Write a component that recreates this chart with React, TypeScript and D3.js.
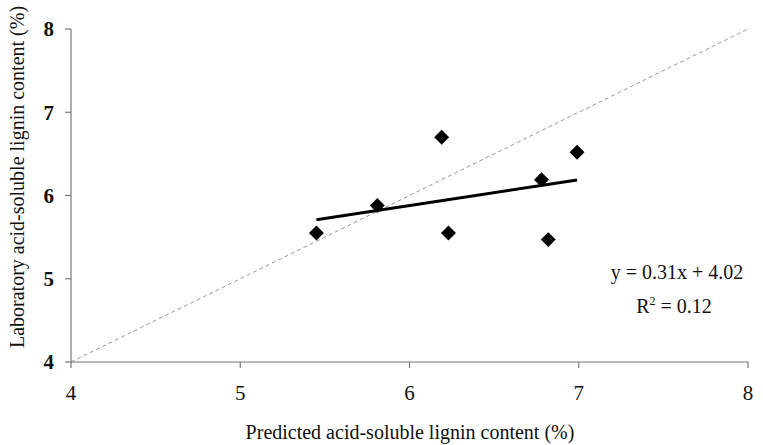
import React from "react";
import * as d3 from "d3";

const predicted = [5.45, 5.81, 6.19, 6.23, 6.78, 6.82, 6.99];
const laboratory = [5.55, 5.88, 6.70, 5.55, 6.19, 5.47, 6.52];
const xTicks = [4, 5, 6, 7, 8];
const yTicks = [4, 5, 6, 7, 8];
const slope = 0.31;
const intercept = 4.02;
const eqLine1 = "y = 0.31x + 4.02";
const r2Value = "0.12";
const xTitle = "Predicted acid-soluble lignin content (%)";
const yTitle = "Laboratory acid-soluble lignin content (%)";

export default function App() {
  const W = 763, H = 445;
  const left = 71, right = 748, top = 29, bottom = 362;
  const x = d3.scaleLinear().domain([4, 8]).range([left, right]);
  const y = d3.scaleLinear().domain([4, 8]).range([bottom, top]);
  const font = "'Liberation Serif', 'Times New Roman', serif";
  const axisColor = "#777";
  const diamond = d3.symbol(d3.symbolSquare, 112)();
  const xMin = d3.min(predicted) as number;
  const xMax = d3.max(predicted) as number;
  const line = d3.line<number>().x((d) => x(d)).y((d) => y(slope * d + intercept));

  return (
    <svg width={W} height={H} style={{ position: "absolute", left: 0, top: 0, background: "#fff" }}>
      {/* diagonal 1:1 line */}
      <line x1={x(4)} y1={y(4)} x2={x(8)} y2={y(8)} stroke="#999" strokeWidth={1} strokeDasharray="4,3" />
      {/* axes */}
      <line x1={left} y1={top} x2={left} y2={bottom} stroke={axisColor} strokeWidth={1.2} />
      <line x1={left} y1={bottom} x2={right} y2={bottom} stroke={axisColor} strokeWidth={1.2} />
      {yTicks.map((t) => (
        <g key={"y" + t}>
          <line x1={left - 6} x2={left} y1={y(t)} y2={y(t)} stroke={axisColor} strokeWidth={1.2} />
          <text x={left - 17} y={y(t)} dy="0.35em" textAnchor="end" fontFamily={font} fontSize={21} fontWeight="bold" fill="#111">
            {t}
          </text>
        </g>
      ))}
      {xTicks.map((t) => (
        <g key={"x" + t}>
          <line x1={x(t)} x2={x(t)} y1={bottom} y2={bottom + 6} stroke={axisColor} strokeWidth={1.2} />
          <text x={x(t)} y={bottom + 38} textAnchor="middle" fontFamily={font} fontSize={21} fill="#111">
            {t}
          </text>
        </g>
      ))}
      {/* regression line */}
      <path d={line([xMin, xMax]) || ""} stroke="#000" strokeWidth={3} fill="none" />
      {/* points */}
      {predicted.map((p, i) => (
        <path key={i} d={diamond || ""} transform={`translate(${x(p)},${y(laboratory[i])}) rotate(45)`} fill="#000" />
      ))}
      {/* equation */}
      <text x={677} y={279} textAnchor="middle" fontFamily={font} fontSize={20} fill="#111">
        {eqLine1}
      </text>
      <text x={674} y={313} textAnchor="middle" fontFamily={font} fontSize={20} fill="#111">
        R<tspan dy={-8} fontSize={12}>2</tspan>
        <tspan dy={8}> = {r2Value}</tspan>
      </text>
      {/* titles */}
      <text x={410} y={439} textAnchor="middle" fontFamily={font} fontSize={20} fill="#111">
        {xTitle}
      </text>
      <text transform="translate(24,177) rotate(-90)" textAnchor="middle" fontFamily={font} fontSize={20} fill="#111">
        {yTitle}
      </text>
    </svg>
  );
}
